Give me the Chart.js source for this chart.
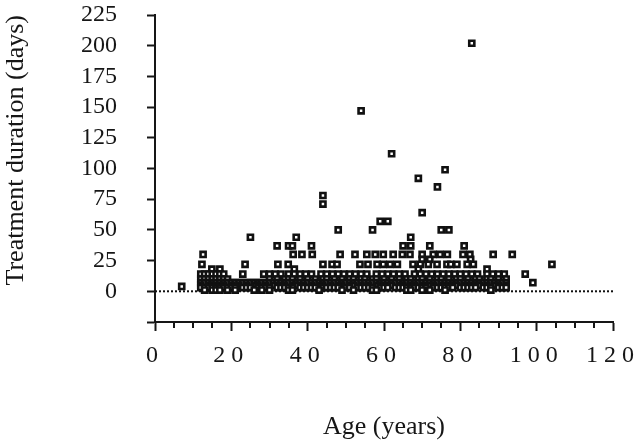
<!DOCTYPE html>
<html>
<head>
<meta charset="utf-8">
<script src="https://cdn.jsdelivr.net/npm/chart.js@4.4.1/dist/chart.umd.min.js"></script>
<style>
  html, body { margin: 0; padding: 0; background: #ffffff; }
  #wrap { width: 638px; height: 445px; position: relative; }
</style>
</head>
<body>
<div id="wrap"><canvas id="c" width="638" height="445"></canvas></div>
<script>
// ---- Data (age in years, treatment duration in days) ----
const xTickValues = [0, 20, 40, 60, 80, 100, 120];
const yTickValues = [0, 25, 50, 75, 100, 125, 150, 175, 200, 225];

// Isolated / long-duration patients
const outlierAge  = [83, 54, 62, 76, 69, 74, 44, 44, 70, 59, 61, 48, 57, 75, 77, 25, 37, 67, 7];
const outlierDays = [202, 147, 112, 99, 92, 85, 78, 71, 64, 57, 57, 50, 50, 50, 50, 44, 44, 44, 4];

// Patients grouped by the duration row they sit on (ages)
const ageAt37 = [32, 35, 36, 41, 65, 67, 72, 81];
const ageAt30 = [12.6, 36.2, 38.5, 41.2, 48.5, 52.4, 55.5, 57.7, 59.8, 62.4, 64.8, 66.8, 70, 72.9, 74.7, 76.6, 80.7, 82.5, 88.6, 93.6];
const ageAt26 = [70, 72, 82.7];
const ageAt22 = [12.3, 23.6, 32.2, 34.9, 44, 46.4, 47.7, 53.7, 55.8, 58.2, 59.8, 61.6, 63.5, 67.6, 69.5, 71.6, 73.9, 76.5, 77.5, 79.1, 81.8, 83.4, 104];
const ageAt18 = [14.9, 17, 36.5, 69, 87];
const ageAt14 = [12, 13, 14, 15, 16, 17, 18, 23, 28.5, 30, 31.5, 33, 35, 36.5, 38, 39.5, 41, 43.5, 45, 46.5, 48, 49.5, 51, 52.5, 54, 55.5, 58, 59.5, 61, 62.5, 64, 65.5, 68, 69.5, 71, 72.5, 74, 75.5, 77, 78.5, 80, 81.5, 83, 84.5, 87, 88.5, 90, 91.5, 97];
const ageAt10 = [12, 13, 14, 15, 16, 17, 18, 19, 30, 32, 34, 35, 36, 38, 40, 42, 44, 45, 47, 49, 51, 52, 54, 55, 57, 58, 60, 62, 64, 66, 67, 69, 70, 72, 74, 75, 77, 79, 80, 82, 84, 85, 87, 88, 90, 92];
const ageAt7  = [12, 13, 14, 15, 16, 17, 18, 19, 20, 21, 22, 23, 24, 25, 26, 27, 28, 29, 30, 31, 32, 33, 34, 35, 36, 37, 38, 39, 40, 41, 42, 43, 44, 45, 46, 47, 48, 49, 50, 51, 52, 53, 54, 55, 56, 57, 58, 59, 60, 61, 62, 63, 64, 65, 66, 67, 68, 69, 70, 71, 72, 73, 74, 75, 76, 77, 78, 79, 80, 81, 82, 83, 84, 85, 86, 87, 88, 89, 90, 91, 92, 99];
const ageAt5  = [12, 14, 15, 17, 18, 20, 22, 24, 26, 27, 29, 31, 33, 34, 36, 37, 39, 41, 43, 44, 46, 48, 49, 51, 52, 54, 56, 58, 59, 61, 62, 64, 65, 67, 68, 70, 72, 73, 75, 77, 78, 79, 81, 83, 84, 85, 87, 89, 90, 92];
const ageAt3  = [12, 13, 14, 15, 16, 17, 18, 19, 20, 21, 23, 24, 25, 27, 28, 29, 30, 32, 33, 34, 35, 36, 38, 39, 40, 41, 42, 44, 45, 46, 47, 48, 50, 51, 53, 54, 55, 56, 57, 59, 60, 61, 63, 64, 65, 66, 67, 68, 69, 70, 71, 73, 74, 75, 76, 77, 78, 80, 81, 82, 83, 84, 86, 87, 88, 90, 91, 92];
const ageAt1  = [13, 15, 16, 17, 19, 21, 26, 28, 30, 35, 36, 43, 49, 52, 57, 58, 66, 67, 70, 72, 76, 88];

const rowAges = [ageAt37, ageAt30, ageAt26, ageAt22, ageAt18, ageAt14, ageAt10, ageAt7, ageAt5, ageAt3, ageAt1];
const rowDays = [37, 30, 26, 22, 18, 14, 10, 7, 5, 3, 1];

const zeroLineX = [0, 120];
const zeroLineY = [0, 0];

// ---- Build library data from the arrays ----
const points = [];
outlierAge.forEach((a, i) => points.push({ x: a, y: outlierDays[i] }));
rowAges.forEach((ages, r) => ages.forEach(a => points.push({ x: a, y: rowDays[r] })));
const zeroLine = zeroLineX.map((x, i) => ({ x: x, y: zeroLineY[i] }));

const INK = '#161616';
const FONT = "'Liberation Serif', 'Times New Roman', serif";

// Letter-spaced x tick labels, and long major / short minor ticks on the x axis
const axisDecor = {
  id: 'axisDecor',
  beforeDraw(chart) {
    const s = chart.scales.x;
    if (s && !s._spacedPatch) {
      const orig = s.drawLabels;
      s.drawLabels = function (area) {
        const ctx = this.ctx;
        ctx.save();
        ctx.letterSpacing = '6px';
        orig.call(this, area);
        ctx.restore();
      };
      s._spacedPatch = true;
    }
  },
  afterDraw(chart) {
    const s = chart.scales.x;
    const ctx = chart.ctx;
    const y0 = chart.chartArea.bottom;
    ctx.save();
    ctx.strokeStyle = INK;
    ctx.lineWidth = 2;
    s.ticks.forEach(t => {
      if (t.value % 20 !== 0) {
        const px = Math.round(s.getPixelForValue(t.value));
        ctx.beginPath();
        ctx.moveTo(px, y0);
        ctx.lineTo(px, y0 + 6);
        ctx.stroke();
      }
    });
    ctx.restore();
  }
};

new Chart(document.getElementById('c'), {
  type: 'scatter',
  data: {
    datasets: [
      {
        label: 'Patients',
        data: points,
        pointStyle: 'rect',
        pointRadius: 3.6,
        pointBorderWidth: 2.6,
        pointBorderColor: '#111111',
        pointBackgroundColor: '#ffffff',
        showLine: false,
        order: 0,
        clip: false
      },
      {
        type: 'line',
        label: 'zero',
        data: zeroLine,
        borderColor: '#111111',
        borderWidth: 2,
        borderDash: [2, 2],
        pointRadius: 0,
        fill: false,
        order: 1
      }
    ]
  },
  options: {
    responsive: false,
    animation: false,
    devicePixelRatio: 1,
    layout: { padding: { top: 15, right: 25, left: 0, bottom: 0 } },
    plugins: { legend: { display: false }, tooltip: { enabled: false } },
    scales: {
      x: {
        type: 'linear',
        min: 0,
        max: 120,
        afterFit(scale) {
          scale.height = 123;
          scale.paddingLeft = 0;
          scale.paddingRight = 0;
        },
        ticks: {
          stepSize: 5,
          autoSkip: false,
          maxRotation: 0,
          padding: 10,
          color: INK,
          font: { family: FONT, size: 24 },
          callback: (v) => xTickValues.includes(v) ? String(v) : ''
        },
        grid: {
          drawOnChartArea: false,
          drawTicks: true,
          tickLength: 9,
          tickWidth: 2,
          tickColor: (ctx) => (ctx.tick && xTickValues.includes(ctx.tick.value)) ? INK : 'rgba(0,0,0,0)'
        },
        border: { display: true, color: INK, width: 2 },
        title: {
          display: true,
          text: 'Age (years)',
          color: INK,
          font: { family: FONT, size: 26 },
          padding: { top: 0, bottom: 2 }
        }
      },
      y: {
        type: 'linear',
        min: -25,
        max: 225,
        afterFit(scale) {
          scale.width = 155;
          scale.paddingTop = 0;
          scale.paddingBottom = 0;
        },
        ticks: {
          stepSize: 25,
          autoSkip: false,
          padding: 30,
          color: INK,
          font: { family: FONT, size: 24 },
          callback: (v) => yTickValues.includes(v) ? String(v) : ''
        },
        grid: {
          drawOnChartArea: false,
          drawTicks: true,
          tickLength: 8,
          tickWidth: 2,
          tickColor: INK
        },
        border: { display: true, color: INK, width: 2 },
        title: {
          display: true,
          text: 'Treatment duration (days)',
          align: 'end',
          color: INK,
          font: { family: FONT, size: 26 },
          padding: { top: 1, bottom: 0 }
        }
      }
    }
  },
  plugins: [axisDecor]
});
</script>
</body>
</html>
